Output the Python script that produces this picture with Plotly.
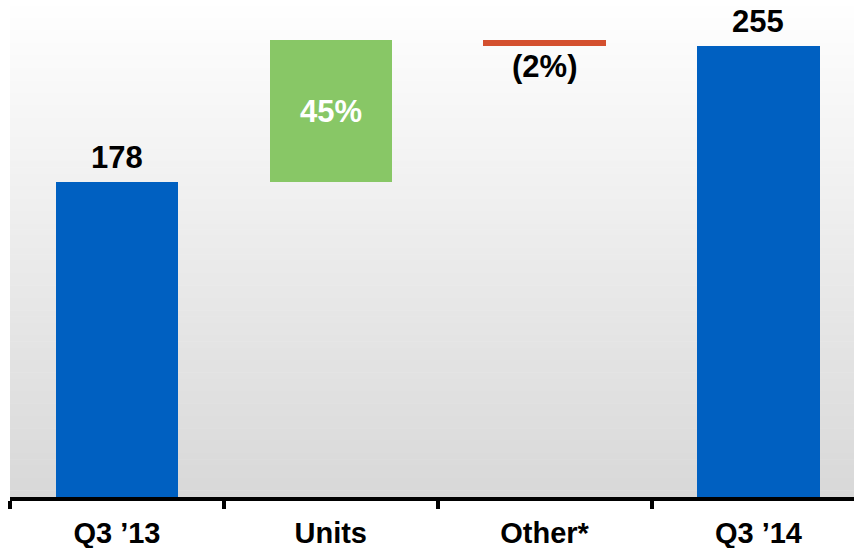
import plotly.graph_objects as go

categories = ["Q3 ’13", "Units", "Other*", "Q3 ’14"]
values = [178, 80, -3, 255]          # totals and deltas
measures = ["total", "relative", "relative", "total"]
labels = ["178", "45%", "(2%)", "255"]
colors = ["#0060C1", "#88C766", "#D4502F", "#0060C1"]

# compute bases for a waterfall from the data
bases = []
running = 0
for v, m in zip(values, measures):
    if m == "total":
        bases.append(0)
        running = v
    else:
        bases.append(running)
        running += v

FONT = "Liberation Sans, Arial, sans-serif"

fig = go.Figure()
fig.add_trace(go.Bar(
    x=categories, y=values, base=bases,
    marker=dict(color=colors, line=dict(width=0)),
    width=0.572,
    text=[lbl if i == 1 else "" for i, lbl in enumerate(labels)],
    textposition="inside",
    insidetextanchor="middle",
    insidetextfont=dict(family=FONT, size=31, color="white"),
    texttemplate="<b>%{text}</b>",
    cliponaxis=False,
    hoverinfo="skip",
))

# value labels outside the bars
annotations = []
for i, (cat, v, b, lbl) in enumerate(zip(categories, values, bases, labels)):
    if i == 1:
        continue
    if v >= 0:
        annotations.append(dict(
            x=cat, y=b + v, xref="x", yref="y", text=f"<b>{lbl}</b>",
            showarrow=False, yanchor="bottom", yshift=5,
            font=dict(family=FONT, size=31, color="black"),
        ))
    else:
        annotations.append(dict(
            x=cat, y=b + v, xref="x", yref="y", text=f"<b>{lbl}</b>",
            showarrow=False, yanchor="top", yshift=-1,
            font=dict(family=FONT, size=31, color="black"),
        ))

# vertical gradient background (white -> light gray)
n = 80
shapes = []
for i in range(n):
    t = (i + 0.5) / n
    g = round(255 - (255 - 216) * t)
    shapes.append(dict(
        type="rect", xref="paper", yref="paper",
        x0=0, x1=1, y0=1 - (i + 1) / n, y1=1 - i / n + 0.001,
        fillcolor=f"rgb({g},{g},{g})", line=dict(width=0), layer="below",
    ))

fig.update_layout(
    width=854, height=548,
    margin=dict(l=10, r=0, t=0, b=51),
    plot_bgcolor="white", paper_bgcolor="white",
    showlegend=False,
    shapes=shapes,
    annotations=annotations,
    bargap=0,
    xaxis=dict(
        type="category", range=[-0.5, 3.447],
        showline=True, linecolor="black", linewidth=4,
        ticks="outside", tickson="boundaries", ticklen=8, tickwidth=4, tickcolor="black",
        showgrid=False, zeroline=False,
        tickfont=dict(family=FONT, size=29, color="black"),
        tickprefix="<b>", ticksuffix="</b>",
        ticklabelstandoff=7,
    ),
    yaxis=dict(range=[0, 280.8], visible=False, showgrid=False, zeroline=False),
)

fig.write_html(
    "out.html",
    config={"displayModeBar": False},
    post_script="document.body.style.margin='0';document.body.style.padding='0';",
)
